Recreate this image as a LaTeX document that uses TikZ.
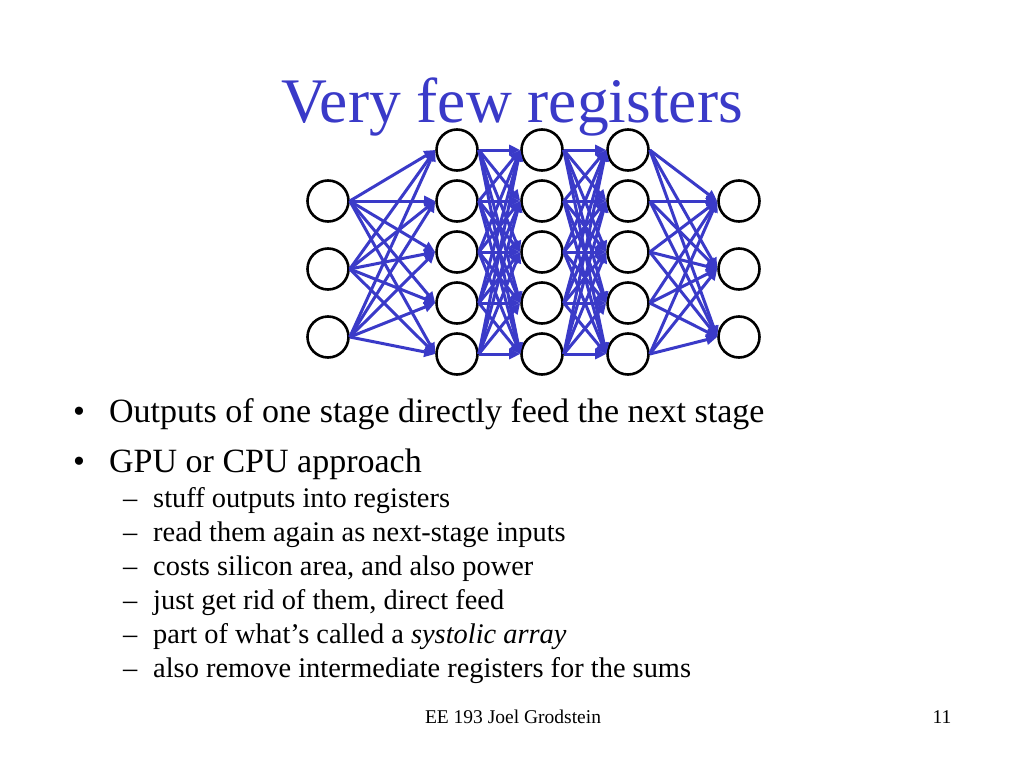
\documentclass[tikz,border=0pt]{standalone}
\usepackage{fontspec}
\setmainfont{Liberation Serif}
\usetikzlibrary{arrows.meta}
\definecolor{slideblue}{RGB}{58,58,200}
\tikzset{
  neuron/.style={circle,draw=black,line width=2.6pt,minimum size=41pt,inner sep=0pt,fill=white},
  conn/.style={draw=slideblue,line width=3pt,-{Triangle[length=11pt,width=10pt]}},
  txt/.style={anchor=base west,inner sep=0pt},
}
\begin{document}
\begin{tikzpicture}[x=1pt,y=-1pt]
\useasboundingbox (0,0) rectangle (1024,768);
\node[anchor=base,inner sep=0pt,text=slideblue,font=\fontsize{63.5}{70}\selectfont] (title) at (512,122) {Very few registers};
% neurons
\foreach \i/\y in {1/201,2/269,3/337} {
  \node[neuron] (a\i) at (328,\y) {};
  \node[neuron] (e\i) at (739,\y) {};
}
\foreach \i/\y in {1/150,2/201,3/252,4/303,5/354} {
  \node[neuron] (b\i) at (457,\y) {};
  \node[neuron] (c\i) at (542,\y) {};
  \node[neuron] (d\i) at (628,\y) {};
}
\foreach \i in {1,2,3} \foreach \j in {1,...,5} \draw[conn] (a\i.east) -- (b\j.west);
\foreach \i in {1,...,5} \foreach \j in {1,...,5} \draw[conn] (b\i.east) -- (c\j.west);
\foreach \i in {1,...,5} \foreach \j in {1,...,5} \draw[conn] (c\i.east) -- (d\j.west);
\foreach \i in {1,...,5} \foreach \j in {1,2,3} \draw[conn] (d\i.east) -- (e\j.west);
% text
\begin{scope}[font=\fontsize{34}{40}\selectfont]
\node[txt] (bu1) at (73,422) {\textbullet};
\node[txt] (t1) at (109,422) {Outputs of one stage directly feed the next stage};
\node[txt] (bu2) at (73,472) {\textbullet};
\node[txt] (t2) at (109,472) {GPU or CPU approach};
\end{scope}
\begin{scope}[font=\fontsize{28.4}{32}\selectfont]
\foreach \k/\y/\t in {1/507/{stuff outputs into registers},
                      2/541/{read them again as next-stage inputs},
                      3/575/{costs silicon area, and also power},
                      4/609/{just get rid of them, direct feed},
                      5/643/{part of what’s called a \textit{systolic array}},
                      6/677/{also remove intermediate registers for the sums}} {
  \node[txt] (m\k) at (123,\y) {–};
  \node[txt] (s\k) at (153,\y) {\t};
}
\end{scope}
\node[anchor=base,inner sep=0pt,font=\fontsize{19.5}{22}\selectfont] (foot) at (513,723) {EE 193 Joel Grodstein};
\node[anchor=base,inner sep=0pt,font=\fontsize{19.5}{22}\selectfont] (pg) at (942,723) {11};
\end{tikzpicture}
\end{document}
